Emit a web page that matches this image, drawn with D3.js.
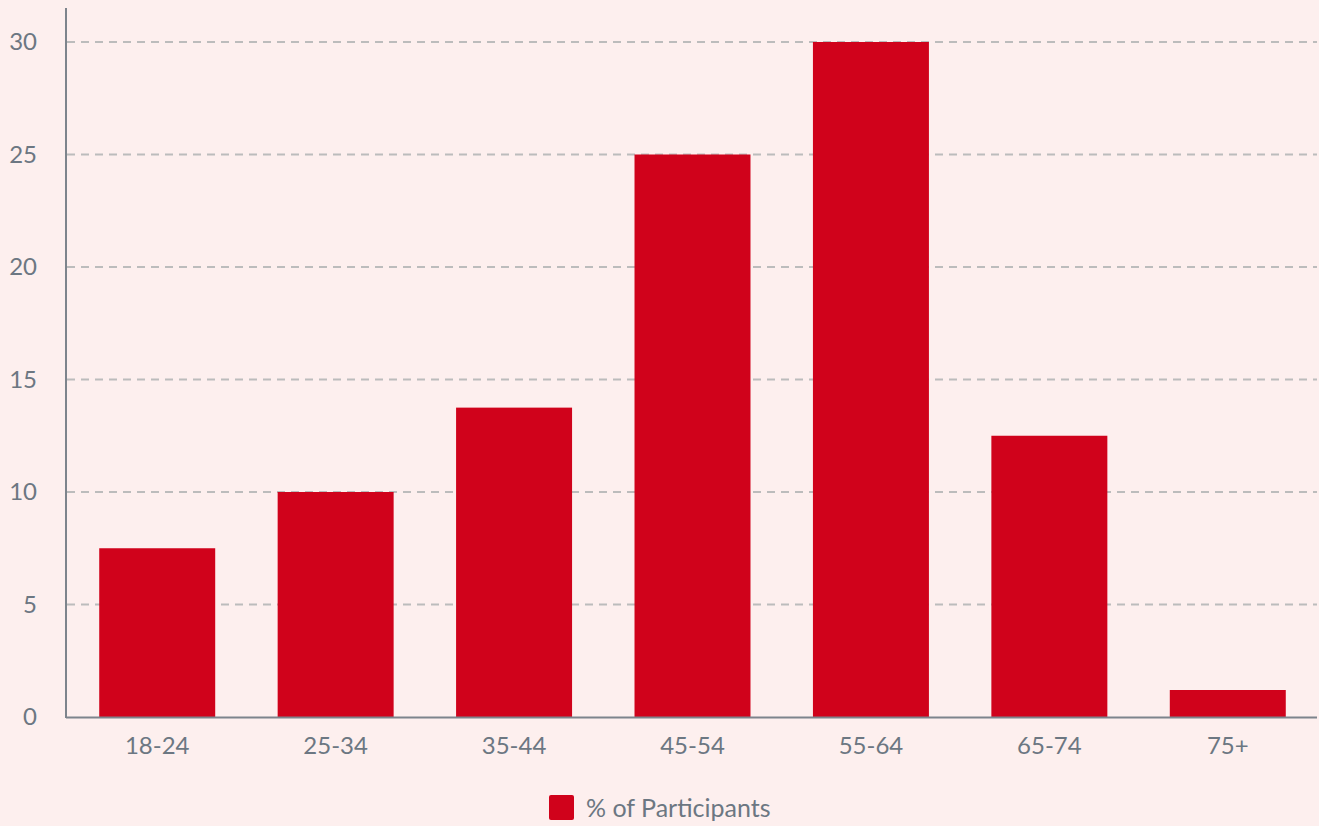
<!DOCTYPE html>
<html>
<head>
<meta charset="utf-8">
<script src="https://cdn.jsdelivr.net/npm/d3@7"></script>
<style>
  html, body { margin: 0; padding: 0; background: #fdefee; }
  svg { display: block; font-family: Lato, "Noto Sans", sans-serif; }
</style>
</head>
<body>
<svg id="chart" width="1319" height="826"></svg>
<script>
// Age groups and share of participants (%)
const ageGroups = ["18-24", "25-34", "35-44", "45-54", "55-64", "65-74", "75+"];
const participantShare = [7.5, 10, 13.75, 25, 30, 12.5, 1.2];
const yTicks = [0, 5, 10, 15, 20, 25, 30];
const seriesName = "% of Participants";

const W = 1319, H = 826;
const margin = { left: 66, right: 2, top: 8, bottom: 109 };
const svg = d3.select("#chart");

const x = d3.scaleBand()
  .domain(ageGroups)
  .range([margin.left + 2, W - margin.right])
  .paddingInner(0.35)
  .paddingOuter(0.175);

const y = d3.scaleLinear()
  .domain([0, 30])
  .range([H - margin.bottom, 42]);

const textColor = "#6c7782";
const axisColor = "#7d848c";
const barColor = "#d0021b";

// Dashed horizontal gridlines
svg.append("g")
  .selectAll("line")
  .data(yTicks.filter(d => d > 0))
  .join("line")
  .attr("x1", margin.left + 1)
  .attr("x2", W - margin.right)
  .attr("y1", d => y(d))
  .attr("y2", d => y(d))
  .attr("stroke", "#bcbcbc")
  .attr("stroke-width", 2)
  .attr("stroke-dasharray", "8,6");

// Bars
svg.append("g")
  .selectAll("rect")
  .data(ageGroups.map((g, i) => ({ g, v: participantShare[i] })))
  .join("rect")
  .attr("x", d => x(d.g))
  .attr("width", x.bandwidth())
  .attr("y", d => y(d.v))
  .attr("height", d => y(0) - y(d.v))
  .attr("fill", barColor);

// Y axis
const yAxis = svg.append("g")
  .attr("transform", `translate(${margin.left},0)`)
  .call(d3.axisLeft(y).tickValues(yTicks).tickSize(0).tickPadding(29));
yAxis.select(".domain").remove();
yAxis.selectAll("text")
  .attr("fill", textColor)
  .style("font-size", "24px")
  .style("font-family", "Lato, sans-serif");
svg.append("line")
  .attr("x1", margin.left).attr("x2", margin.left)
  .attr("y1", margin.top).attr("y2", y(0) + 1)
  .attr("stroke", axisColor).attr("stroke-width", 2);

// X axis
const xAxis = svg.append("g")
  .attr("transform", `translate(0,${y(0)})`)
  .call(d3.axisBottom(x).tickSize(0).tickPadding(20));
xAxis.select(".domain").remove();
xAxis.selectAll("text")
  .attr("fill", textColor)
  .style("font-size", "24px")
  .style("font-family", "Lato, sans-serif");
svg.append("line")
  .attr("x1", margin.left).attr("x2", W - margin.right)
  .attr("y1", y(0) + 0.5).attr("y2", y(0) + 0.5)
  .attr("stroke", axisColor).attr("stroke-width", 2);

// Legend
const legend = svg.append("g").attr("transform", "translate(549,795)");
legend.append("rect")
  .attr("width", 25).attr("height", 25).attr("rx", 2)
  .attr("fill", barColor);
legend.append("text")
  .attr("x", 37).attr("y", 13)
  .attr("dy", "0.35em")
  .attr("fill", textColor)
  .style("font-size", "25px")
  .text(seriesName);
</script>
</body>
</html>
